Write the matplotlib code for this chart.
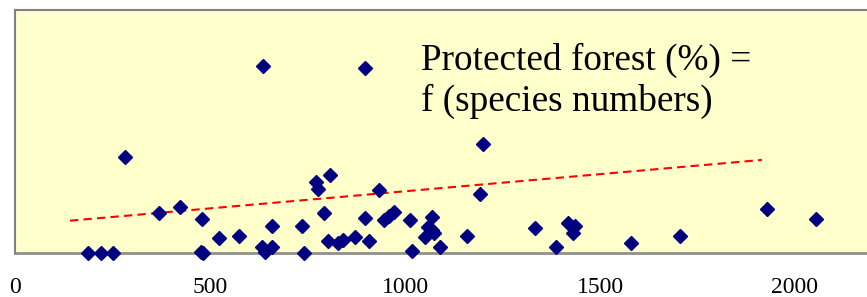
import matplotlib
matplotlib.use("Agg")
import matplotlib.pyplot as plt

# Species numbers (x) vs protected forest % (y)
species = [188, 220, 252, 282, 370, 423, 479, 477, 482, 522, 574, 637, 633, 658, 642,
           658, 735, 740, 772, 778, 808, 792, 803, 829, 842, 872, 897, 897, 907, 934,
           947, 959, 971, 1013, 1018, 1068, 1059, 1069, 1074, 1051, 1090, 1158, 1199,
           1192, 1333, 1386, 1417, 1436, 1432, 1579, 1705, 1928, 2053]
protected = [0, 0, 0, 39.6, 16.3, 19.1, 13.9, 0.4, 0, 6.0, 6.9, 77.0, 2.6, 2.6, 0.3,
             11.1, 11.1, 0, 29.4, 26.4, 32.0, 16.3, 5.1, 4.0, 5.3, 6.7, 14.6, 76.0, 5.1, 25.9,
             13.6, 15.2, 16.7, 13.7, 0.8, 15.0, 10.8, 9.5, 8.2, 6.6, 2.6, 6.9, 44.9,
             24.2, 10.3, 2.6, 12.5, 11.1, 8.4, 4.2, 6.9, 18.1, 13.9]

# Linear trend line end points
trend_x = [141, 1915]
trend_y = [13.3, 38.3]

xticks = [0, 500, 1000, 1500, 2000]
title_lines = ["Protected forest (%) =", "f (species numbers)"]

W, H = 867, 297
fig = plt.figure(figsize=(W / 100, H / 100), dpi=100)
fig.patch.set_facecolor("white")

left_px, right_px, top_px, bottom_px = 15, 880, 10, 253
ax = fig.add_axes([left_px / W, (H - bottom_px) / H,
                   (right_px - left_px) / W, (bottom_px - top_px) / H])
ax.set_facecolor("#FFFFCC")
px_per_unit = 0.39
ax.set_xlim(0, (right_px - left_px) / px_per_unit)
ax.set_ylim(0, 100)

ax.plot(trend_x, trend_y, color="#FF0000", lw=1.5, dashes=(4, 2.5), zorder=2)
ax.plot(species, protected, linestyle="none", marker="D", ms=6.7,
        color="#000080", markeredgecolor="#000080", clip_on=False, zorder=3)

for s in ["top", "left", "right"]:
    ax.spines[s].set_color("#808080")
    ax.spines[s].set_linewidth(1.5)
ax.spines["bottom"].set_color("#909090")
ax.spines["bottom"].set_linewidth(2.0)
ax.spines["bottom"].set_zorder(1)

ax.set_yticks([])
ax.set_xticks(xticks)
ax.set_xticklabels([str(t) for t in xticks], fontfamily="Liberation Serif", fontsize=17)
ax.tick_params(axis="x", length=0, pad=17)

fig.text(421 / W, 1 - 60 / H, title_lines[0], fontfamily="Liberation Serif",
         fontsize=26.8, ha="left", va="center")
fig.text(421 / W, 1 - 101 / H, title_lines[1], fontfamily="Liberation Serif",
         fontsize=26.8, ha="left", va="center")

fig.savefig("out.png", dpi=100)
